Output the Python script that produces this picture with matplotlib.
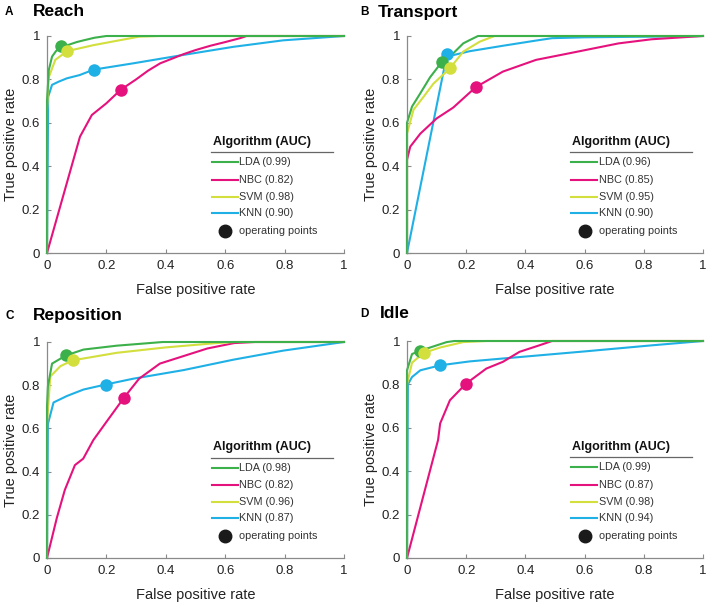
import matplotlib
matplotlib.use("Agg")
import matplotlib.pyplot as plt
from matplotlib.lines import Line2D

plt.rcParams['font.family'] = ['Liberation Sans', 'DejaVu Sans']

algorithms = ["LDA", "NBC", "SVM", "KNN"]
colors = {"LDA": "#3cb04a", "NBC": "#e5127d", "SVM": "#d2df3c", "KNN": "#1fb0e6"}

panel_letters = ["A", "B", "C", "D"]
panel_titles = ["Reach", "Transport", "Reposition", "Idle"]

auc = {
    "Reach":      {"LDA": "0.99", "NBC": "0.82", "SVM": "0.98", "KNN": "0.90"},
    "Transport":  {"LDA": "0.96", "NBC": "0.85", "SVM": "0.95", "KNN": "0.90"},
    "Reposition": {"LDA": "0.98", "NBC": "0.82", "SVM": "0.96", "KNN": "0.87"},
    "Idle":       {"LDA": "0.99", "NBC": "0.87", "SVM": "0.98", "KNN": "0.94"},
}

# ROC curves (FPR, TPR)
reach_lda_fpr = [0, 0.0, 0.006, 0.017, 0.03, 0.048, 0.065, 0.078, 0.10, 0.123, 0.16, 0.2, 1.0]
reach_lda_tpr = [0, 0.70, 0.843, 0.905, 0.93, 0.952, 0.955, 0.962, 0.972, 0.98, 0.992, 1.0, 1.0]
reach_nbc_fpr = [0, 0.111, 0.151, 0.2, 0.248, 0.3, 0.34, 0.381, 0.42, 0.459, 0.5, 0.55, 0.6, 0.65, 0.672, 1.0]
reach_nbc_tpr = [0, 0.536, 0.636, 0.69, 0.752, 0.8, 0.84, 0.874, 0.895, 0.916, 0.935, 0.955, 0.972, 0.99, 1.0, 1.0]
reach_svm_fpr = [0, 0.0, 0.006, 0.028, 0.067, 0.157, 0.235, 0.31, 0.38, 1.0]
reach_svm_tpr = [0, 0.66, 0.81, 0.89, 0.93, 0.958, 0.978, 0.997, 1.0, 1.0]
reach_knn_fpr = [0, 0.004, 0.017, 0.04, 0.067, 0.11, 0.157, 0.29, 0.46, 0.627, 0.795, 1.0]
reach_knn_tpr = [0, 0.72, 0.775, 0.79, 0.805, 0.82, 0.845, 0.874, 0.913, 0.95, 0.98, 1.0]

transport_lda_fpr = [0, 0.0, 0.017, 0.045, 0.078, 0.117, 0.156, 0.19, 0.21, 0.24, 1.0]
transport_lda_tpr = [0, 0.60, 0.675, 0.736, 0.81, 0.879, 0.92, 0.966, 0.98, 1.0, 1.0]
transport_nbc_fpr = [0, 0.0, 0.011, 0.045, 0.1, 0.156, 0.232, 0.324, 0.436, 0.547, 0.715, 0.827, 1.0]
transport_nbc_tpr = [0, 0.43, 0.49, 0.55, 0.62, 0.67, 0.764, 0.836, 0.89, 0.92, 0.966, 0.985, 1.0]
transport_svm_fpr = [0, 0.0, 0.022, 0.056, 0.089, 0.145, 0.19, 0.246, 0.296, 1.0]
transport_svm_tpr = [0, 0.55, 0.66, 0.72, 0.78, 0.851, 0.928, 0.974, 1.0, 1.0]
transport_knn_fpr = [0, 0.135, 0.15, 0.212, 0.324, 0.436, 0.49, 0.6, 0.83, 1.0]
transport_knn_tpr = [0, 0.915, 0.91, 0.93, 0.955, 0.979, 0.99, 0.994, 0.997, 1.0]

reposition_lda_fpr = [0, 0.0, 0.003, 0.017, 0.064, 0.123, 0.235, 0.39, 1.0]
reposition_lda_tpr = [0, 0.70, 0.795, 0.9, 0.938, 0.965, 0.983, 1.0, 1.0]
reposition_nbc_fpr = [0, 0.033, 0.06, 0.094, 0.122, 0.156, 0.2, 0.258, 0.31, 0.38, 0.46, 0.54, 0.63, 0.7, 1.0]
reposition_nbc_tpr = [0, 0.185, 0.315, 0.43, 0.46, 0.546, 0.63, 0.74, 0.83, 0.9, 0.935, 0.97, 0.995, 1.0, 1.0]
reposition_svm_fpr = [0, 0.0, 0.011, 0.045, 0.086, 0.235, 0.4, 0.57, 0.63, 1.0]
reposition_svm_tpr = [0, 0.62, 0.84, 0.888, 0.915, 0.95, 0.975, 0.995, 1.0, 1.0]
reposition_knn_fpr = [0, 0.003, 0.022, 0.067, 0.123, 0.197, 0.29, 0.46, 0.627, 0.795, 1.0]
reposition_knn_tpr = [0, 0.62, 0.72, 0.75, 0.78, 0.803, 0.83, 0.87, 0.918, 0.96, 1.0]

idle_lda_fpr = [0, 0.0, 0.017, 0.045, 0.078, 0.134, 0.16, 1.0]
idle_lda_tpr = [0, 0.865, 0.94, 0.955, 0.97, 0.995, 1.0, 1.0]
idle_nbc_fpr = [0, 0.105, 0.112, 0.145, 0.199, 0.268, 0.324, 0.38, 0.447, 0.49, 1.0]
idle_nbc_tpr = [0, 0.544, 0.62, 0.727, 0.803, 0.873, 0.904, 0.95, 0.98, 1.0, 1.0]
idle_svm_fpr = [0, 0.0, 0.017, 0.056, 0.112, 0.19, 0.27, 1.0]
idle_svm_tpr = [0, 0.80, 0.9, 0.945, 0.97, 0.995, 1.0, 1.0]
idle_knn_fpr = [0, 0.003, 0.017, 0.045, 0.112, 0.212, 0.38, 0.6, 0.827, 1.0]
idle_knn_tpr = [0, 0.80, 0.834, 0.865, 0.888, 0.906, 0.926, 0.952, 0.98, 1.0]

# Operating points (FPR, TPR)
op_points = {
    "Reach":      {"LDA": (0.048, 0.952), "NBC": (0.248, 0.752), "SVM": (0.067, 0.93), "KNN": (0.157, 0.845)},
    "Transport":  {"LDA": (0.117, 0.879), "NBC": (0.232, 0.764), "SVM": (0.145, 0.851), "KNN": (0.135, 0.915)},
    "Reposition": {"LDA": (0.064, 0.938), "NBC": (0.258, 0.74), "SVM": (0.086, 0.915), "KNN": (0.197, 0.803)},
    "Idle":       {"LDA": (0.045, 0.955), "NBC": (0.199, 0.803), "SVM": (0.056, 0.945), "KNN": (0.112, 0.888)},
}

curves = {
    "Reach": {"LDA": (reach_lda_fpr, reach_lda_tpr), "NBC": (reach_nbc_fpr, reach_nbc_tpr),
              "SVM": (reach_svm_fpr, reach_svm_tpr), "KNN": (reach_knn_fpr, reach_knn_tpr)},
    "Transport": {"LDA": (transport_lda_fpr, transport_lda_tpr), "NBC": (transport_nbc_fpr, transport_nbc_tpr),
                  "SVM": (transport_svm_fpr, transport_svm_tpr), "KNN": (transport_knn_fpr, transport_knn_tpr)},
    "Reposition": {"LDA": (reposition_lda_fpr, reposition_lda_tpr), "NBC": (reposition_nbc_fpr, reposition_nbc_tpr),
                   "SVM": (reposition_svm_fpr, reposition_svm_tpr), "KNN": (reposition_knn_fpr, reposition_knn_tpr)},
    "Idle": {"LDA": (idle_lda_fpr, idle_lda_tpr), "NBC": (idle_nbc_fpr, idle_nbc_tpr),
             "SVM": (idle_svm_fpr, idle_svm_tpr), "KNN": (idle_knn_fpr, idle_knn_tpr)},
}

ticks = [0, 0.2, 0.4, 0.6, 0.8, 1]
tick_labels = ["0", "0.2", "0.4", "0.6", "0.8", "1"]

W, H = 708, 603
fig = plt.figure(figsize=(W / 100, H / 100), dpi=100)

# axes boxes in pixels: (left, right, top, bottom)
boxes = [(47, 344, 36, 253), (407, 703, 36, 253), (47, 344, 342, 558), (407, 703, 341, 558)]
title_pos = [(5, 33, 12), (360, 378, 12), (5, 33, 316), (360, 380, 314)]

draw_order = ["KNN", "NBC", "SVM", "LDA"]
spine_gray = "#8a8a8a"

for i, title in enumerate(panel_titles):
    l, r, t, b = boxes[i]
    ax = fig.add_axes([l / W, 1 - b / H, (r - l) / W, (b - t) / H])
    ax.set_xlim(0, 1)
    ax.set_ylim(0, 1)
    for name in draw_order:
        fx, ty = curves[title][name]
        ax.plot(fx, ty, color=colors[name], lw=1.5, clip_on=False, zorder=2)
    for name in ["NBC", "KNN", "LDA", "SVM"]:
        ox, oy = op_points[title][name]
        ax.plot([ox], [oy], "o", color=colors[name], ms=9, mec="none", clip_on=False, zorder=3)

    for s in ["top", "right"]:
        ax.spines[s].set_visible(False)
    for s in ["left", "bottom"]:
        ax.spines[s].set_color(spine_gray)
        ax.spines[s].set_linewidth(0.9)
    ax.set_xticks(ticks)
    ax.set_xticklabels(tick_labels)
    ax.set_yticks(ticks)
    ax.set_yticklabels(tick_labels)
    ax.tick_params(direction="in", length=3, width=0.8, color=spine_gray, labelsize=9.5,
                   labelcolor="#222222", pad=5)
    ax.set_xlabel("False positive rate", fontsize=10.5, color="#222222", labelpad=8)
    ax.set_ylabel("True positive rate", fontsize=10.5, color="#222222", labelpad=3)

    # legend (drawn manually)
    ax.text(0.558, 0.512, "Algorithm (AUC)", transform=ax.transAxes, fontsize=9,
            fontweight="bold", va="center", ha="left", color="#111111")
    ax.add_line(Line2D([0.552, 0.962], [0.465, 0.465], transform=ax.transAxes,
                       color="#666666", lw=0.9, clip_on=False))
    ys = [0.418, 0.336, 0.258, 0.183]
    for name, yy in zip(algorithms, ys):
        ax.add_line(Line2D([0.555, 0.643], [yy, yy], transform=ax.transAxes,
                           color=colors[name], lw=1.5, clip_on=False))
        ax.text(0.648, yy, f"{name} ({auc[title][name]})", transform=ax.transAxes,
                fontsize=7.8, va="center", ha="left", color="#333333")
    ax.plot([0.6], [0.101], "o", color="#1a1a1a", ms=9, transform=ax.transAxes, clip_on=False)
    ax.text(0.648, 0.101, "operating points", transform=ax.transAxes, fontsize=7.8,
            va="center", ha="left", color="#333333")

    lx, tx, ty_ = title_pos[i]
    fig.text(lx / W, 1 - ty_ / H, panel_letters[i], fontsize=8.5, fontweight="bold",
             va="center", ha="left")
    fig.text(tx / W, 1 - ty_ / H, title, fontsize=12.5, fontweight="bold", va="center", ha="left")

fig.savefig("out.png", dpi=100)
